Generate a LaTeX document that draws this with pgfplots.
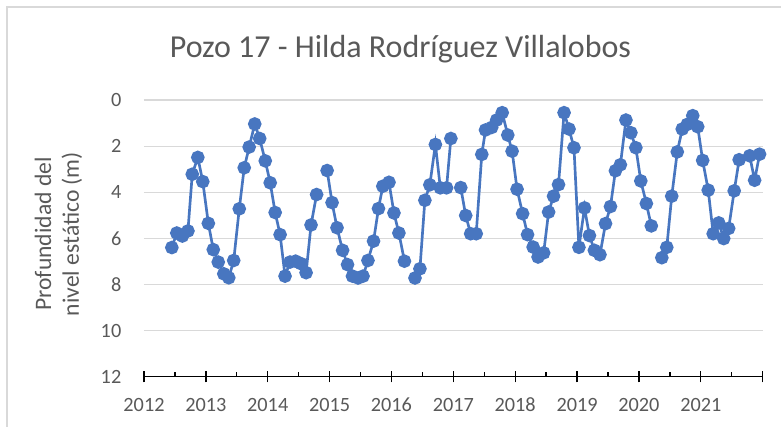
\documentclass[border=0pt]{standalone}
\usepackage{fontspec}
\setmainfont{Carlito}
\usepackage{pgfplots}
\pgfplotsset{compat=1.18}

\definecolor{serie}{RGB}{72,118,192}
\definecolor{txt}{RGB}{89,89,89}
\definecolor{grid}{RGB}{217,217,217}

\begin{document}
\begin{tikzpicture}
\path[use as bounding box] (-108pt,-37.7pt) rectangle (477.75pt,282.5pt);
% chart frame (open on the right and bottom, as cropped)
\draw[grid, line width=0.9pt] (-102.75pt,-37.7pt) -- (-102.75pt,277.3pt) -- (477.75pt,277.3pt);

\begin{axis}[
  at={(0,0)}, anchor=south west,
  scale only axis,
  width=464pt, height=207.5pt,
  xmin=2012, xmax=2022,
  ymin=0, ymax=12,
  y dir=reverse,
  axis x line*=bottom,
  axis y line*=left,
  x axis line style={black, line width=1pt, -},
  y axis line style={draw=none},
  xtick={2012,2013,...,2022},
  xticklabels={2012,2013,2014,2015,2016,2017,2018,2019,2020,2021,},
  minor xtick={2012.5,2013.5,...,2021.5},
  tick align=center,
  major tick length=8.7pt,
  minor tick length=3.5pt,
  minor tick style={yshift=1.75pt},
  x tick style={black, line width=1pt},
  ytick={0,2,...,12},
  ymajorgrids,
  y grid style={grid, line width=0.8pt},
  y tick style={draw=none},
  tick label style={font=\fontsize{15.2}{17}\selectfont, text=txt},
  /pgf/number format/assume math mode=true,
  yticklabel style={anchor=east, inner sep=0pt, xshift=-12.5pt},
  xticklabel style={anchor=base, inner sep=0pt, yshift=-22pt},
  unbounded coords=jump,
  clip=false,
]
\addplot[color=serie, line width=2pt, mark=*, mark size=4.1pt,
         mark options={fill=serie, draw=serie}] coordinates {
  (2012.45,6.40) (2012.53,5.77) (2012.62,5.90) (2012.71,5.68) (2012.78,3.22)
  (2012.87,2.49) (2012.95,3.54) (2013.04,5.35) (2013.12,6.49) (2013.20,7.03)
  (2013.29,7.54) (2013.37,7.71) (2013.45,6.96) (2013.54,4.72) (2013.62,2.94)
  (2013.70,2.04) (2013.79,1.04) (2013.87,1.67) (2013.96,2.64) (2014.04,3.59)
  (2014.12,4.88) (2014.20,5.84) (2014.28,7.64) (2014.36,7.03) (2014.45,6.99)
  (2014.54,7.10) (2014.62,7.49) (2014.70,5.42) (2014.79,4.10)
  (2014.87,nan)
  (2014.96,3.06) (2015.04,4.45) (2015.12,5.54) (2015.21,6.52) (2015.29,7.14)
  (2015.37,7.64) (2015.46,7.72) (2015.54,7.64) (2015.62,6.96) (2015.71,6.12)
  (2015.79,4.71) (2015.86,3.74) (2015.96,3.57) (2016.04,4.90) (2016.12,5.77)
  (2016.21,6.99)
  (2016.29,nan)
  (2016.38,7.72) (2016.46,7.32) (2016.54,4.35) (2016.62,3.68) (2016.71,1.93)
  (2016.79,3.81) (2016.89,3.81) (2016.96,1.67)
  (2017.04,nan)
  (2017.12,3.80) (2017.20,5.01) (2017.28,5.80) (2017.37,5.80) (2017.46,2.36)
  (2017.52,1.30) (2017.62,1.19) (2017.70,0.87) (2017.79,0.55) (2017.88,1.52)
  (2017.95,2.22) (2018.03,3.87) (2018.12,4.93) (2018.20,5.84) (2018.29,6.38)
  (2018.37,6.81) (2018.46,6.63) (2018.54,4.86) (2018.62,4.17) (2018.70,3.67)
  (2018.79,0.55) (2018.87,1.26) (2018.95,2.07) (2019.03,6.39) (2019.12,4.68)
  (2019.20,5.88) (2019.28,6.52) (2019.37,6.71) (2019.46,5.36) (2019.54,4.62)
  (2019.62,3.07) (2019.70,2.81) (2019.79,0.87) (2019.87,1.42) (2019.95,2.07)
  (2020.03,3.51) (2020.12,4.49) (2020.20,5.46)
  (2020.28,nan)
  (2020.37,6.84) (2020.45,6.39) (2020.53,4.17) (2020.62,2.25) (2020.70,1.26)
  (2020.78,1.06) (2020.87,0.68) (2020.95,1.16) (2021.03,2.62) (2021.12,3.91)
  (2021.20,5.80) (2021.29,5.33) (2021.37,6.01) (2021.45,5.57) (2021.54,3.94)
  (2021.62,2.59) (2021.79,2.42) (2021.87,3.48) (2021.95,2.35)
};
\end{axis}

% title
\node[anchor=base, text=txt, font=\fontsize{24}{28}\selectfont, inner sep=0pt]
  at (192.4pt,239pt) {Pozo 17 - Hilda Rodríguez Villalobos};
% y axis title (two lines)
\node[anchor=base, rotate=90, text=txt, font=\fontsize{17.7}{21}\selectfont, inner sep=0pt]
  at (-69.75pt,107pt) {Profundidad del};
\node[anchor=base, rotate=90, text=txt, font=\fontsize{17.7}{21}\selectfont, inner sep=0pt]
  at (-48.75pt,107pt) {nivel estático (m)};
\end{tikzpicture}
\end{document}
